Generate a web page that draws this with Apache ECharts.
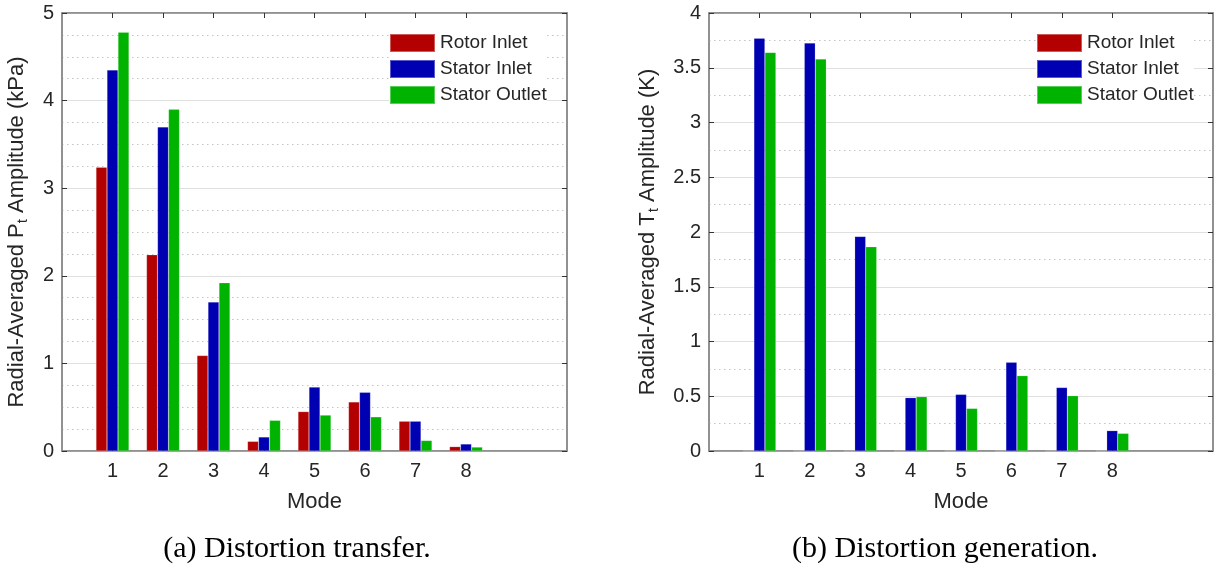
<!DOCTYPE html>
<html>
<head>
<meta charset="utf-8">
<script src="https://cdn.jsdelivr.net/npm/echarts@6/dist/echarts.min.js"></script>
<style>
html,body{margin:0;padding:0;background:#fff;}
#chart{width:1214px;height:570px;}
</style>
</head>
<body>
<div id="chart"></div>
<script>
// ---- data ----
const modes = [1, 2, 3, 4, 5, 6, 7, 8];
const seriesNames = ['Rotor Inlet', 'Stator Inlet', 'Stator Outlet'];
// (a) Distortion transfer: radial-averaged Pt amplitude (kPa)
const ptRotorInlet   = [3.24, 2.24, 1.09, 0.11, 0.45, 0.56, 0.34, 0.05];
const ptStatorInlet  = [4.35, 3.70, 1.70, 0.16, 0.73, 0.67, 0.34, 0.08];
const ptStatorOutlet = [4.78, 3.90, 1.92, 0.35, 0.41, 0.39, 0.12, 0.045];
// (b) Distortion generation: radial-averaged Tt amplitude (K)
const ttRotorInlet   = [0, 0, 0, 0, 0, 0, 0, 0];
const ttStatorInlet  = [3.77, 3.725, 1.96, 0.487, 0.517, 0.81, 0.58, 0.186];
const ttStatorOutlet = [3.64, 3.58, 1.865, 0.496, 0.389, 0.688, 0.505, 0.161];
const xTicks = [1, 2, 3, 4, 5, 6, 7, 8];
const captions = ['(a) Distortion transfer.', '(b) Distortion generation.'];

// ---- styles ----
const colors = ['#b30000', '#0000b3', '#00b300'];
const FONT = 'Liberation Sans, Arial, sans-serif';
const AX = '#8a8a8a';
const TXT = '#262626';

const chart = echarts.init(document.getElementById('chart'));

function pairs(vals) { return modes.map((m, i) => [m, vals[i]]); }

function xAxisFor(gi, pos) {
  const bottom = pos === 'bottom';
  return {
    type: 'value', gridIndex: gi, position: pos, min: 0, max: 10, interval: 1,
    axisLine: { show: true, onZero: false, lineStyle: { color: AX, width: 1.5 } },
    axisTick: { show: true, inside: true, length: 5, customValues: xTicks, lineStyle: { color: '#333', width: 1 } },
    axisLabel: { show: bottom, customValues: xTicks, color: TXT, fontFamily: FONT, fontSize: 20, margin: 10 },
    splitLine: { show: false },
    name: bottom ? 'Mode' : '', nameLocation: 'middle', nameGap: 40,
    nameTextStyle: { color: TXT, fontFamily: FONT, fontSize: 22 }
  };
}
function yAxisFor(gi, pos, max, interval, minorSplit, name, unitName, gap) {
  const left = pos === 'left';
  return {
    type: 'value', gridIndex: gi, position: pos, min: 0, max: max, interval: interval,
    axisLine: { show: true, onZero: false, lineStyle: { color: AX, width: 1.5 } },
    axisTick: { show: true, inside: true, length: 5, lineStyle: { color: '#333', width: 1 } },
    axisLabel: { show: left, color: TXT, fontFamily: FONT, fontSize: 20, margin: 8 },
    splitLine: { show: left, lineStyle: { color: '#e0e0e0', width: 1 } },
    minorTick: { show: false, splitNumber: minorSplit },
    minorSplitLine: { show: left, lineStyle: { color: '#c4c4c4', width: 1, type: [1.5, 3.5] } },
    name: left ? '{n|Radial-Averaged ' + name + '}{s|t}{n| Amplitude (' + unitName + ')}' : '',
    nameLocation: 'middle', nameGap: gap,
    nameTextStyle: {
      color: TXT, fontFamily: FONT, fontSize: 22,
      rich: {
        n: { fontSize: 22, fontFamily: FONT, color: TXT },
        s: { fontSize: 15, fontFamily: FONT, color: TXT, padding: [11, 0, 0, 0] }
      }
    }
  };
}

function barSeries(name, gi, vals, ci) {
  return {
    type: 'bar', name: name, xAxisIndex: gi, yAxisIndex: gi,
    data: pairs(vals), barWidth: 11, barGap: '0%',
    itemStyle: { color: colors[ci], borderColor: 'rgba(255,255,255,0.35)', borderWidth: 0.5 },
    emphasis: { disabled: true }, animation: false
  };
}

const legendBase = {
  orient: 'vertical', icon: 'rect', itemWidth: 45, itemHeight: 18, itemGap: 6,
  textStyle: { color: TXT, fontFamily: FONT, fontSize: 19, padding: [0, 0, 0, 0] },
  data: seriesNames, selectedMode: false, backgroundColor: '#fff', padding: 0
};

const option = {
  animation: false,
  backgroundColor: '#fff',
  grid: [
    { left: 62, right: 1214 - 567, top: 13, bottom: 570 - 451, show: true, borderColor: AX, borderWidth: 1.5, backgroundColor: '#fff' },
    { left: 709, right: 1, top: 13, bottom: 570 - 451, show: true, borderColor: AX, borderWidth: 1.5, backgroundColor: '#fff' }
  ],
  legend: [
    Object.assign({}, legendBase, { left: 389, top: 33 }),
    Object.assign({}, legendBase, { left: 1036, top: 33 })
  ],
  xAxis: [xAxisFor(0, 'bottom'), xAxisFor(1, 'bottom'), xAxisFor(0, 'top'), xAxisFor(1, 'top')],
  yAxis: [
    yAxisFor(0, 'left', 5, 1, 4, 'P', 'kPa', 32),
    yAxisFor(1, 'left', 4, 0.5, 2, 'T', 'K', 48),
    yAxisFor(0, 'right', 5, 1, 4, 'P', 'kPa', 32),
    yAxisFor(1, 'right', 4, 0.5, 2, 'T', 'K', 48)
  ],
  series: [
    barSeries(seriesNames[0], 0, ptRotorInlet, 0),
    barSeries(seriesNames[1], 0, ptStatorInlet, 1),
    barSeries(seriesNames[2], 0, ptStatorOutlet, 2),
    barSeries(seriesNames[0], 1, ttRotorInlet, 0),
    barSeries(seriesNames[1], 1, ttStatorInlet, 1),
    barSeries(seriesNames[2], 1, ttStatorOutlet, 2)
  ],
  graphic: [
    { type: 'text', x: 297, y: 549, style: { text: captions[0], fill: '#000', font: '30px "Liberation Serif", "Times New Roman", serif', textAlign: 'center', textVerticalAlign: 'middle' } },
    { type: 'text', x: 945, y: 549, style: { text: captions[1], fill: '#000', font: '30px "Liberation Serif", "Times New Roman", serif', textAlign: 'center', textVerticalAlign: 'middle' } }
  ]
};
chart.setOption(option);
</script>
</body>
</html>
